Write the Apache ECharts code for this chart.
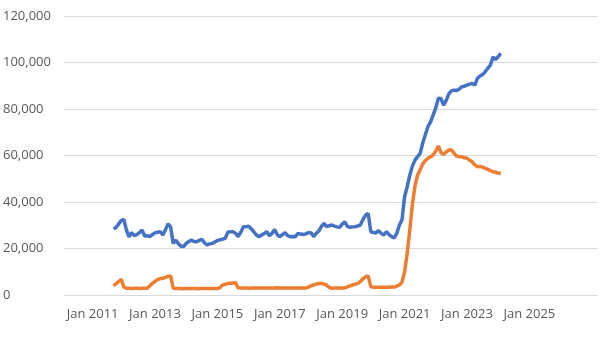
<!DOCTYPE html>
<html>
<head>
<meta charset="utf-8">
<script src="https://cdn.jsdelivr.net/npm/echarts@6/dist/echarts.min.js"></script>
<style>
  html, body { margin: 0; padding: 0; background: #fff; }
  #chart { width: 600px; height: 338px; }
</style>
</head>
<body>
<div id="chart"></div>
<script>
// Monthly axis runs from Feb 2010 to Mar 2027
const axisStart = { year: 2010, month: 1 };   // month is 0-based (1 = Feb)
const axisMonths = 206;
const monthNames = ["Jan","Feb","Mar","Apr","May","Jun","Jul","Aug","Sep","Oct","Nov","Dec"];

// Both series start in Sep 2011 (monthly values through Feb 2024)
const seriesStart = "Sep 2011";

const tickLabels = ["Jan 2011","Jan 2013","Jan 2015","Jan 2017","Jan 2019","Jan 2021","Jan 2023","Jan 2025"];

const blueValues = [
  28500, 29000, 30500, 32000, 32500, 28000, 25000, 26800, 25500, 26000,
  26800, 28000, 25400, 25500, 25100, 26000, 26700, 27000, 27200, 25800,
  28000, 30500, 29400, 22200, 23600, 22000, 21000, 20800, 22200, 23000,
  23600, 23000, 22900, 23500, 23900, 22500, 21500, 22000, 22200, 22800,
  23400, 23800, 24000, 24400, 27000, 27200, 27200, 26500, 25100, 27000,
  29400, 29400, 29600, 28500, 27200, 25800, 25100, 25800, 26400, 27200,
  25500, 26500, 28200, 26000, 25100, 26000, 26800, 25500, 25100, 25200,
  25100, 26500, 26200, 26000, 26300, 26800, 26800, 25100, 26500, 27500,
  29500, 30800, 29400, 29800, 30100, 29600, 29300, 29100, 30500, 31500,
  29500, 29100, 29300, 29400, 29700, 30100, 32500, 34400, 35100, 27200,
  26900, 26700, 27700, 26500, 25800, 27200, 26000, 25100, 24600, 26500,
  30100, 32300, 42300, 46600, 51500, 55500, 58000, 59500, 60900, 65500,
  69000, 72500, 74500, 77500, 80500, 84600, 84500, 81700, 83700, 86500,
  87800, 88100, 88000, 88500, 89600, 89800, 90300, 90700, 91000, 90300,
  93200, 94200, 94800, 96000, 97500, 98900, 102300, 101300, 102500, 104000
];

const orangeValues = [
  4000, 4800, 5800, 6700, 3500, 2900, 2900, 2800, 2900, 2900,
  2800, 2900, 2900, 2900, 4000, 5000, 5800, 6600, 7000, 7200,
  7600, 8000, 8200, 2900, 2800, 2800, 2800, 2700, 2800, 2800,
  2800, 2800, 2800, 2700, 2800, 2800, 2800, 2800, 2800, 2800,
  2800, 3200, 4300, 4600, 5000, 5100, 5200, 5300, 3000, 3000,
  3000, 3000, 2900, 3000, 3000, 3000, 3000, 3000, 3000, 3000,
  3000, 3000, 3000, 3100, 3000, 3000, 3000, 3000, 3000, 3000,
  3000, 3000, 3000, 3000, 3000, 3400, 3900, 4300, 4700, 5000,
  5000, 4700, 4300, 3200, 2900, 3000, 3000, 3000, 3000, 3000,
  3500, 3900, 4300, 4700, 5000, 5800, 7000, 7800, 8200, 3600,
  3300, 3300, 3300, 3300, 3300, 3300, 3300, 3400, 3400, 3800,
  4300, 5500, 10000, 17900, 28000, 39000, 47000, 51500, 54000, 56400,
  57800, 58800, 59500, 60200, 62000, 64100, 61200, 60500, 61500, 62400,
  62400, 61000, 59800, 59500, 59500, 59000, 58800, 58000, 57300, 56000,
  55200, 55300, 55000, 54500, 54000, 53500, 53000, 52800, 52500, 52300
];

const categories = [];
for (let i = 0; i < axisMonths; i++) {
  const m = axisStart.month + i;
  const y = axisStart.year + Math.floor(m / 12);
  categories.push(monthNames[m % 12] + " " + y);
}

function alignToAxis(values) {
  const offset = categories.indexOf(seriesStart);
  const out = new Array(categories.length).fill(null);
  values.forEach((v, i) => { out[offset + i] = v; });
  return out;
}

const chart = echarts.init(document.getElementById('chart'), null, { renderer: 'canvas' });
chart.setOption({
  animation: false,
  backgroundColor: '#ffffff',
  grid: { left: 62, right: 3, top: 16, bottom: 43, containLabel: false },
  xAxis: {
    type: 'category',
    data: categories,
    boundaryGap: false,
    axisLine: { show: true, lineStyle: { color: '#d9d9d9', width: 1 } },
    axisTick: { show: false },
    axisLabel: {
      interval: (idx, val) => tickLabels.indexOf(val) !== -1,
      color: '#595959',
      fontFamily: 'Open Sans',
      fontSize: 13,
      margin: 13
    },
    splitLine: { show: false }
  },
  yAxis: {
    type: 'value',
    min: 0,
    max: 120000,
    interval: 20000,
    axisLine: { show: false },
    axisTick: { show: false },
    axisLabel: {
      align: 'left',
      margin: 61,
      color: '#595959',
      fontFamily: 'Open Sans',
      fontSize: 13,
      formatter: v => v.toLocaleString('en-US')
    },
    splitLine: { lineStyle: { color: '#d9d9d9', width: 1 } }
  },
  series: [
    {
      type: 'line',
      data: alignToAxis(blueValues),
      showSymbol: false,
      lineStyle: { color: '#4472c4', width: 3.5 },
      itemStyle: { color: '#4472c4' }
    },
    {
      type: 'line',
      data: alignToAxis(orangeValues),
      showSymbol: false,
      lineStyle: { color: '#ed7d31', width: 3.5 },
      itemStyle: { color: '#ed7d31' }
    }
  ]
});
</script>
</body>
</html>
